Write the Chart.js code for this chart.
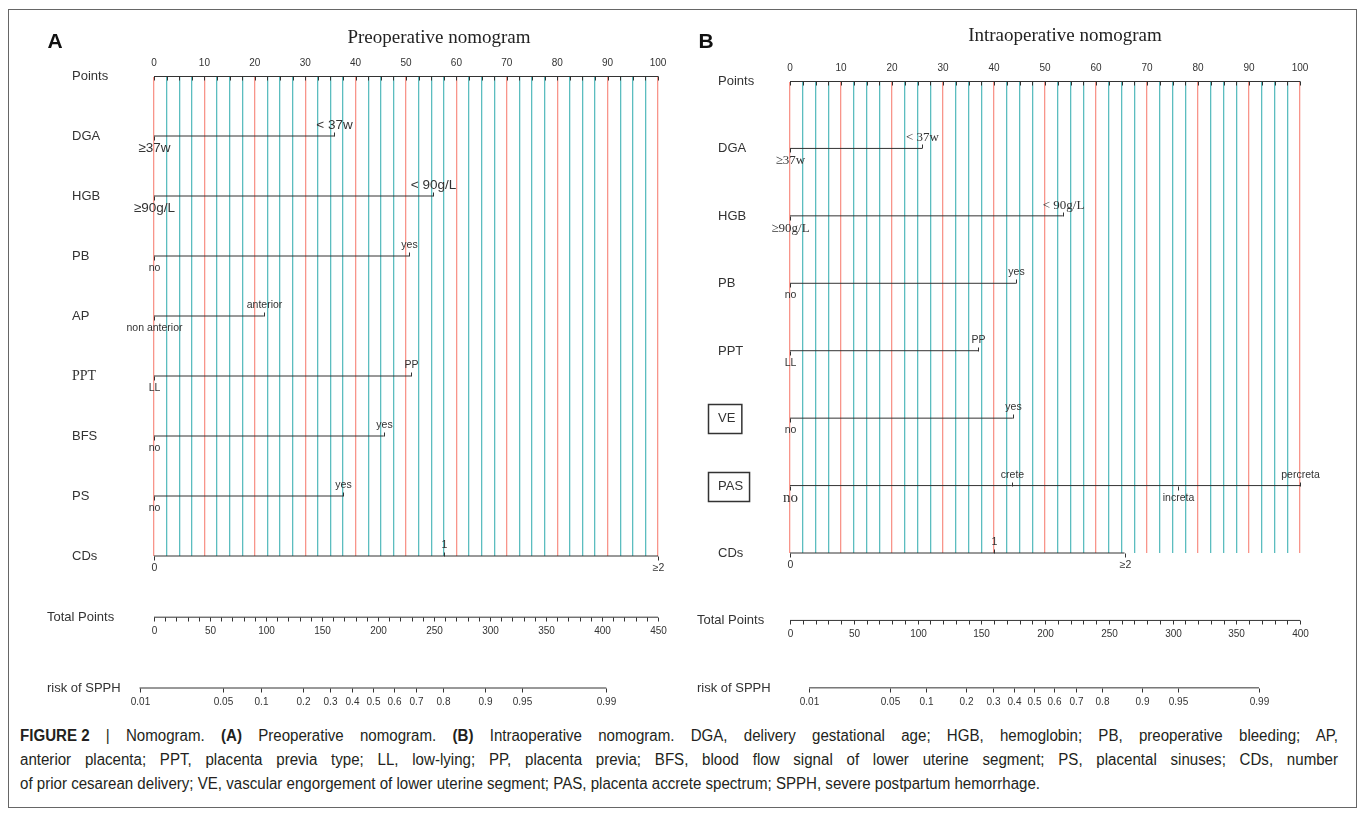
<!DOCTYPE html>
<html>
<head>
<meta charset="utf-8">
<script src="https://cdn.jsdelivr.net/npm/chart.js@4.4.1/dist/chart.umd.min.js"></script>
<style>
  html, body { margin: 0; padding: 0; background: #fff; }
  body { width: 1358px; height: 823px; position: relative; overflow: hidden;
         font-family: "Liberation Sans", Arial, sans-serif; color: #222; }
  .frame { position: absolute; left: 8px; top: 9px; width: 1349px; height: 799px;
           border: 1.5px solid #666; box-sizing: border-box; }
  canvas { position: absolute; top: 0; }
  .abs { position: absolute; transform: translate(-50%, -50%); white-space: nowrap; line-height: 1; }
  .letter { font: bold 21px "Liberation Sans", Arial, sans-serif; color: #111; }
  .title { font: 19px "Liberation Serif", "Times New Roman", serif; color: #222; }
  .cap { position: absolute; left: 20px; white-space: nowrap; font-size: 16px; line-height: 24px;
         color: #231f20; transform-origin: 0 50%; }
  .cap.just { white-space: normal; text-align: justify; text-align-last: justify; }
  .cap .tag { display: inline-block; font-weight: bold; }
</style>
</head>
<body>
<div class="frame"></div>
<canvas id="pre" width="680" height="720" style="left:0;width:680px;height:720px"></canvas>
<canvas id="intra" width="678" height="720" style="left:680px;width:678px;height:720px"></canvas>

<div class="abs letter" style="left:55px;top:41px">A</div>
<div class="abs letter" style="left:706px;top:41px">B</div>
<div class="abs title" style="left:439px;top:37px">Preoperative nomogram</div>
<div class="abs title" style="left:1065px;top:35px">Intraoperative nomogram</div>

<div class="cap" id="cap1" style="top:724px"><span class="tag">FIGURE 2</span> | Nomogram. <b>(A)</b> Preoperative nomogram. <b>(B)</b> Intraoperative nomogram. DGA, delivery gestational age; HGB, hemoglobin; PB, preoperative bleeding; AP,</div>
<div class="cap" id="cap2" style="top:748px">anterior placenta; PPT, placenta previa type; LL, low-lying; PP, placenta previa; BFS, blood flow signal of lower uterine segment; PS, placental sinuses; CDs, number</div>
<div class="cap" id="cap3" style="top:772px">of prior cesarean delivery; VE, vascular engorgement of lower uterine segment; PAS, placenta accrete spectrum; SPPH, severe postpartum hemorrhage.</div>

<script>
// ---- data ----
const pointsTicks = [0, 10, 20, 30, 40, 50, 60, 70, 80, 90, 100];
const riskTicks = [0.01, 0.05, 0.1, 0.2, 0.3, 0.4, 0.5, 0.6, 0.7, 0.8, 0.9, 0.95, 0.99];

const preVariables = ["DGA", "HGB", "PB", "AP", "PPT", "BFS", "PS", "CDs"];
const preLevels = [
  ["≥37w", "< 37w"],
  ["≥90g/L", "< 90g/L"],
  ["no", "yes"],
  ["non anterior", "anterior"],
  ["LL", "PP"],
  ["no", "yes"],
  ["no", "yes"],
  ["0", "1", "≥2"],
];
const prePoints = [[0, 35.8], [0, 55.4], [0, 50.6], [0, 21.8], [0, 51.0], [0, 45.6], [0, 37.5], [0, 57.5, 100]];
const preTotalTicks = [0, 50, 100, 150, 200, 250, 300, 350, 400, 450];
const preRiskCoef = [-4.31, 0.02205]; // intercept, slope on total points

const intraVariables = ["DGA", "HGB", "PB", "PPT", "VE", "PAS", "CDs"];
const intraLevels = [
  ["≥37w", "< 37w"],
  ["≥90g/L", "< 90g/L"],
  ["no", "yes"],
  ["LL", "PP"],
  ["no", "yes"],
  ["no", "crete", "increta", "percreta"],
  ["0", "1", "≥2"],
];
const intraPoints = [[0, 25.9], [0, 53.5], [0, 44.3], [0, 36.9], [0, 43.7], [0, 43.5, 76.1, 100], [0, 40.0, 65.6]];
const intraTotalTicks = [0, 50, 100, 150, 200, 250, 300, 350, 400];
const intraRiskCoef = [-4.984, 0.02604];

// ---- styles ----
const RED = "#f8958a";
const TEAL = "#5cbdbf";
const INK = "#333";
const SANS = '"Liberation Sans", Arial, sans-serif';
const SERIF = '"Liberation Serif", "Times New Roman", serif';
const TICK_FONT = `10px ${SANS}`;
const AXIS_BAND = 24;

class NomogramPanel {
  constructor(props) {
    const { canvas, variables, levels, points, totalTicks, riskCoef, area, labelX, footX, footRows, rowFont, levelFont, boxed } = props;

    this.canvas = canvas;
    this.variables = variables;
    this.levels = levels;
    this.points = points;
    this.totalTicks = totalTicks;
    this.riskCoef = riskCoef;
    this.area = area;
    this.labelX = labelX;
    this.footX = footX;
    this.footRows = footRows;
    this.rowFont = rowFont;
    this.levelFont = levelFont;
    this.boxed = boxed || [];
    this.rows = variables.length;

    this.chart = this.createChart();
  }

  totalToPoints = (t) => (t * 100) / this.totalTicks[this.totalTicks.length - 1];

  riskToPoints = (p) => {
    const [b0, b1] = this.riskCoef;
    const lp = Math.log(p / (1 - p));
    return this.totalToPoints((lp - b0) / b1);
  };

  createDatasets = () => {
    const line = (data) => ({ data, showLine: true, borderColor: INK, borderWidth: 1, pointRadius: 0, clip: false });
    const sets = this.points.map((pts, i) => line(pts.map((x) => ({ x, y: i + 1 }))));

    const t = this.totalTicks;
    const [totalRow, riskRow] = this.footRows;
    sets.push(line([
      { x: this.totalToPoints(t[0]), y: totalRow },
      { x: this.totalToPoints(t[t.length - 1]), y: totalRow },
    ]));
    sets.push(line([
      { x: this.riskToPoints(riskTicks[0]), y: riskRow },
      { x: this.riskToPoints(riskTicks[riskTicks.length - 1]), y: riskRow },
    ]));
    return sets;
  };

  mark = (ctx, x, y, len) => {
    ctx.beginPath();
    ctx.moveTo(x, y);
    ctx.lineTo(x, y + len);
    ctx.stroke();
  };

  label = (ctx, str, x, y, font, align) => {
    ctx.font = font;
    ctx.textAlign = align;
    ctx.textBaseline = "middle";
    ctx.fillText(str, x, y);
  };

  drawOverlay = (chart) => {
    const { ctx } = chart;
    const { x, y } = chart.scales;
    const px = (v) => Math.round(x.getPixelForValue(v)) + 0.5;
    const py = (r) => Math.round(y.getPixelForValue(r)) + 0.5;

    ctx.save();
    ctx.strokeStyle = INK;
    ctx.fillStyle = INK;
    ctx.lineWidth = 1;

    // Points axis
    const top = py(0);
    x.ticks.forEach((t) => this.mark(ctx, px(t.value), top, 4));
    this.label(ctx, "Points", this.labelX, top, this.rowFont("Points"), "left");

    // one row per predictor
    this.variables.forEach((name, i) => {
      const rowY = py(i + 1);
      const font = this.rowFont(name);
      this.label(ctx, name, this.labelX, rowY, font, "left");
      if (this.boxed.includes(name)) {
        ctx.font = font;
        const w = ctx.measureText(name).width;
        ctx.lineWidth = 1.5;
        ctx.strokeRect(this.labelX - 9.5, rowY - 14, w + 16, 29);
        ctx.lineWidth = 1;
      }
      this.levels[i].forEach((lvl, j) => {
        const below = j % 2 === 0;
        const lx = px(this.points[i][j]);
        this.mark(ctx, lx, rowY, below ? 4 : -4);
        this.label(ctx, lvl, lx, rowY + (below ? 12 : -11), this.levelFont(name, j), "center");
      });
    });

    const [totalRow, riskRow] = this.footRows;

    // Total Points axis
    const totalY = py(totalRow);
    const tMax = this.totalTicks[this.totalTicks.length - 1];
    this.label(ctx, "Total Points", this.footX, totalY, `13px ${SANS}`, "left");
    for (let t = 0; t <= tMax; t += 10) this.mark(ctx, px(this.totalToPoints(t)), totalY, 4);
    this.totalTicks.forEach((t) =>
      this.label(ctx, String(t), px(this.totalToPoints(t)), totalY + 14, TICK_FONT, "center"));

    // risk axis
    const riskY = py(riskRow);
    this.label(ctx, "risk of SPPH", this.footX, riskY, `13px ${SANS}`, "left");
    riskTicks.forEach((p) => {
      const rx = px(this.riskToPoints(p));
      this.mark(ctx, rx, riskY, 4);
      this.label(ctx, String(p), rx, riskY + 14, TICK_FONT, "center");
    });

    ctx.restore();
  };

  createChart = () => {
    const { area, canvas } = this;
    const minor = [];
    for (let v = 0; v <= 100; v += 2.5) minor.push({ value: v });

    return new Chart(canvas, {
      type: "scatter",
      data: { datasets: this.createDatasets() },
      options: {
        responsive: false,
        animation: false,
        events: [],
        layout: {
          autoPadding: false,
          padding: {
            left: area.left,
            right: canvas.width - area.right,
            top: area.top - AXIS_BAND,
            bottom: canvas.height - area.bottom,
          },
        },
        plugins: { legend: { display: false }, tooltip: { enabled: false } },
        scales: {
          x: {
            type: "linear",
            position: "top",
            min: 0,
            max: 100,
            afterBuildTicks: (s) => { s.ticks = minor.map((t) => ({ ...t })); },
            afterFit: (s) => { s.height = AXIS_BAND; },
            ticks: {
              autoSkip: false,
              maxRotation: 0,
              padding: 7,
              color: INK,
              font: { family: SANS, size: 10 },
              callback: (v) => (pointsTicks.includes(v) ? String(v) : ""),
            },
            grid: {
              drawTicks: false,
              lineWidth: 1.3,
              color: (c) => (c.tick && c.tick.value % 10 === 0 ? RED : TEAL),
            },
            border: { display: true, color: INK, width: 1 },
          },
          y: { type: "linear", display: false, reverse: true, min: 0, max: this.rows },
        },
      },
      plugins: [{ id: "nomogram", afterDatasetsDraw: this.drawOverlay }],
    });
  };
}

new NomogramPanel({
  canvas: document.getElementById("pre"),
  variables: preVariables,
  levels: preLevels,
  points: prePoints,
  totalTicks: preTotalTicks,
  riskCoef: preRiskCoef,
  area: { left: 154, right: 658, top: 76, bottom: 556 },
  labelX: 72,
  footX: 47,
  footRows: [9.02, 10.2],
  rowFont: (name) => (name === "PPT" ? `14px ${SERIF}` : `13px ${SANS}`),
  levelFont: (name) =>
    name === "DGA" || name === "HGB" ? `13.5px ${SANS}` : `10.5px ${SANS}`,
});

new NomogramPanel({
  canvas: document.getElementById("intra"),
  variables: intraVariables,
  levels: intraLevels,
  points: intraPoints,
  totalTicks: intraTotalTicks,
  riskCoef: intraRiskCoef,
  area: { left: 110, right: 620, top: 81, bottom: 553 },
  labelX: 38,
  footX: 17,
  footRows: [8.0, 9.0],
  boxed: ["VE", "PAS"],
  rowFont: () => `13px ${SANS}`,
  levelFont: (name, j) => {
    if (name === "DGA" || name === "HGB") return `13px ${SERIF}`;
    if (name === "PAS" && j === 0) return `15px ${SERIF}`;
    return `10.5px ${SANS}`;
  },
});

// caption: narrow the type so the last line ends where printed, justify the others
const last = document.getElementById("cap3");
const scale = 1020 / last.getBoundingClientRect().width;
last.style.transform = `scaleX(${scale})`;
["cap1", "cap2"].forEach((id) => {
  const el = document.getElementById(id);
  el.classList.add("just");
  el.style.width = `${1318 / scale}px`;
  el.style.transform = `scaleX(${scale})`;
});
</script>
</body>
</html>
